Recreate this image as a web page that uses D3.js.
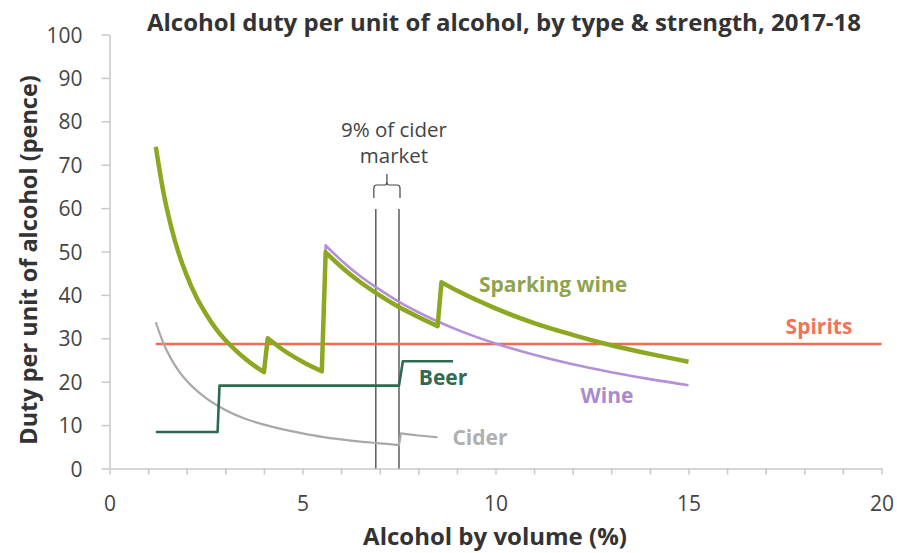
<!DOCTYPE html>
<html>
<head>
<meta charset="utf-8">
<script src="https://cdn.jsdelivr.net/npm/d3@7"></script>
<style>
  body { margin: 0; background: #fff; }
  svg { display: block; font-family: "Open Sans", sans-serif; }
</style>
</head>
<body>
<script>
// duty per unit (pence), [abv %, pence]
var wineLow = [[1.2, 74.1], [1.4, 63.5], [1.6, 55.6], [1.8, 49.4], [2.0, 44.5], [2.25, 39.5], [2.5, 35.6],
  [2.75, 32.3], [3.0, 29.6], [3.25, 27.4], [3.5, 25.4], [3.75, 23.7], [4.0, 22.2]];
var wineMid = [[4.1, 30.0], [4.5, 27.3], [5.0, 24.6], [5.5, 22.4]];
var stillWine = [[5.6, 51.4], [6, 48.0], [6.5, 44.3], [7, 41.2], [7.5, 38.4], [8, 36.0], [9, 32.0], [10, 28.8],
  [11, 26.2], [12, 24.0], [13, 22.2], [14, 20.6], [15, 19.2]];
var sparklingMid = [[5.6, 49.8], [6, 46.5], [6.5, 42.9], [7, 39.9], [7.5, 37.2], [8, 34.9], [8.5, 32.8]];
var sparklingHigh = [[8.6, 42.9], [9, 41.0], [10, 36.9], [11, 33.5], [12, 30.8], [13, 28.4], [14, 26.4], [15, 24.6]];
var beerSteps = [[[1.2, 8.4], [2.8, 8.4]], [[2.85, 19.1], [7.5, 19.1]], [[7.6, 24.7], [8.9, 24.7]]];
var ciderLow = [[1.2, 33.7], [1.4, 28.8], [1.6, 25.2], [1.8, 22.4], [2.0, 20.2], [2.5, 16.2], [3, 13.5], [3.5, 11.5],
  [4, 10.1], [4.5, 9.0], [5, 8.1], [5.5, 7.3], [6, 6.7], [6.5, 6.2], [7, 5.8], [7.5, 5.4]];
var ciderHigh = [[7.55, 8.1], [8, 7.6], [8.5, 7.2]];
var spirits = [[1.2, 28.7], [20, 28.7]];

var ciderMarket = [6.9, 7.5];   // abv band, "9% of cider market"
var xTicks = d3.range(0, 21);
var yTicks = d3.range(0, 101, 10);

var width = 897, height = 553;

var svg = d3.select("body").append("svg")
    .attr("width", width)
    .attr("height", height);

var x = d3.scaleLinear().domain([0, 20]).range([109.5, 881.5]);
var y = d3.scaleLinear().domain([0, 100]).range([468.5, 34.5]);

// title
svg.append("text")
    .attr("x", 504).attr("y", 31)
    .attr("text-anchor", "middle")
    .attr("font-size", 24).attr("font-weight", 700)
    .attr("fill", "#333")
    .text("Alcohol duty per unit of alcohol, by type & strength, 2017-18");

// axes
var xAxis = svg.append("g")
    .attr("transform", "translate(0," + y(0) + ")")
    .call(d3.axisBottom(x).tickValues(xTicks)
      .tickFormat(function(d) { return d % 5 === 0 ? d : ""; })
      .tickSize(6).tickSizeOuter(0).tickPadding(22));

var yAxis = svg.append("g")
    .attr("transform", "translate(" + x(0) + ",0)")
    .call(d3.axisLeft(y).tickValues(yTicks).tickSize(8).tickSizeOuter(0).tickPadding(19));

[xAxis, yAxis].forEach(function(g) {
  g.select(".domain").attr("stroke", "#c8c8c8").attr("stroke-width", 1.5);
  g.selectAll(".tick line").attr("stroke", "#c8c8c8").attr("stroke-width", 1.5);
  g.selectAll(".tick text").attr("font-size", 21).attr("fill", "#444")
    .attr("font-family", "Open Sans, sans-serif");
});
yAxis.selectAll(".tick text").attr("dy", "0.36em");

// axis titles
svg.append("text")
    .attr("x", 495).attr("y", 545)
    .attr("text-anchor", "middle")
    .attr("font-size", 24).attr("font-weight", 700).attr("fill", "#333")
    .text("Alcohol by volume (%)");

svg.append("text")
    .attr("transform", "translate(37,260) rotate(-90)")
    .attr("text-anchor", "middle")
    .attr("font-size", 23.5).attr("font-weight", 700).attr("fill", "#333")
    .text("Duty per unit of alcohol (pence)");

// lines
var line = d3.line()
    .x(function(d) { return x(d[0]); })
    .y(function(d) { return y(d[1]); })
    .curve(d3.curveMonotoneX);

// join the pieces of a series into one path, jumps included
function piecePath(pieces) {
  return pieces.map(function(p, i) {
    var s = line(p);
    return i ? "L" + s.slice(1) : s;
  }).join("");
}

function drawSeries(pieces, color, w) {
  svg.append("path")
    .attr("d", piecePath(pieces))
    .attr("fill", "none")
    .attr("stroke", color)
    .attr("stroke-width", w)
    .attr("stroke-linejoin", "round");
}

// cider market band
ciderMarket.forEach(function(v) {
  svg.append("line")
    .attr("x1", x(v)).attr("x2", x(v))
    .attr("y1", 209).attr("y2", y(0))
    .attr("stroke", "#333").attr("stroke-width", 1.2);
});

drawSeries([spirits], "#f26b50", 2.5);
drawSeries([ciderLow, ciderHigh], "#a8a8a8", 2.2);
drawSeries(beerSteps, "#2e6a4f", 2.6);
drawSeries([wineLow, wineMid, stillWine], "#b58fd8", 2.6);
drawSeries([wineLow, wineMid, sparklingMid, sparklingHigh], "#8ca820", 4.5);

// brace over the band
var bx0 = x(ciderMarket[0]) - 2, bx1 = x(ciderMarket[1]) + 1, bm = (bx0 + bx1) / 2;
svg.append("path")
    .attr("d", "M" + bx0 + ",198 V188 Q" + bx0 + ",185 " + (bx0 + 3) + ",185 H" + (bm - 2) +
      " Q" + bm + ",185 " + bm + ",181 V174 M" + bm + ",181 Q" + bm + ",185 " + (bm + 2) + ",185 H" + (bx1 - 3) +
      " Q" + bx1 + ",185 " + bx1 + ",188 V198")
    .attr("fill", "none").attr("stroke", "#444").attr("stroke-width", 1.2);

var note = svg.append("text")
    .attr("text-anchor", "middle")
    .attr("font-size", 20.5).attr("fill", "#444");
note.append("tspan").attr("x", 394).attr("y", 137).text("9% of cider");
note.append("tspan").attr("x", 394).attr("y", 163).text("market");

// series labels
var labels = [
  { text: "Sparking wine", x: 553, y: 292, color: "#8fa350" },
  { text: "Spirits", x: 819, y: 334, color: "#f0735a" },
  { text: "Beer", x: 443, y: 385, color: "#2f6b50" },
  { text: "Wine", x: 607, y: 403, color: "#a88bcc" },
  { text: "Cider", x: 480, y: 445, color: "#b0b0b0" }
];
svg.selectAll(".lab").data(labels).enter().append("text")
    .attr("class", "lab")
    .attr("x", function(d) { return d.x; })
    .attr("y", function(d) { return d.y; })
    .attr("text-anchor", "middle")
    .attr("font-size", 21).attr("font-weight", 700)
    .attr("fill", function(d) { return d.color; })
    .text(function(d) { return d.text; });
</script>
</body>
</html>
